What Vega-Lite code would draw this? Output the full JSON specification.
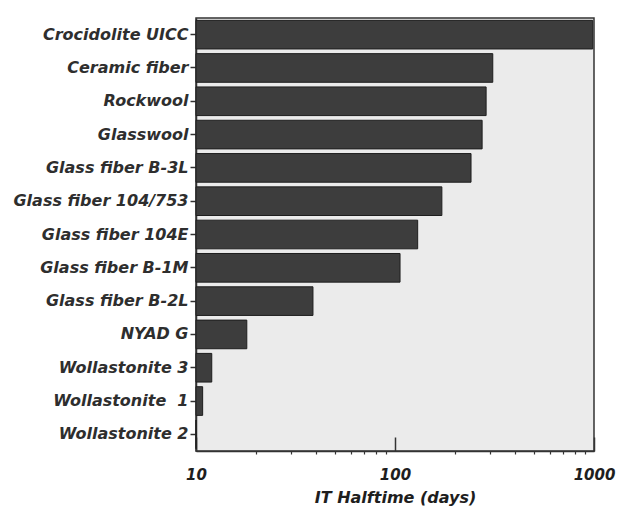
{
  "$schema": "https://vega.github.io/schema/vega-lite/v6.json",
  "width": 398,
  "height": 433,
  "autosize": "none",
  "padding": {"left": 196, "top": 18, "right": 35, "bottom": 67},
  "background": "white",
  "view": {"fill": "#ebebeb", "stroke": "#333333", "strokeWidth": 1.5},
  "data": {
    "values": [
      {"fiber": "Crocidolite UICC", "halftime": 985},
      {"fiber": "Ceramic fiber", "halftime": 310},
      {"fiber": "Rockwool", "halftime": 287},
      {"fiber": "Glasswool", "halftime": 274},
      {"fiber": "Glass fiber B-3L", "halftime": 241},
      {"fiber": "Glass fiber 104/753", "halftime": 172},
      {"fiber": "Glass fiber 104E", "halftime": 130},
      {"fiber": "Glass fiber B-1M", "halftime": 106},
      {"fiber": "Glass fiber B-2L", "halftime": 38.7},
      {"fiber": "NYAD G", "halftime": 18},
      {"fiber": "Wollastonite 3", "halftime": 12},
      {"fiber": "Wollastonite\u00a0 1", "halftime": 10.8},
      {"fiber": "Wollastonite 2", "halftime": 10}
    ]
  },
  "encoding": {
    "y": {
      "field": "fiber",
      "type": "nominal",
      "sort": null,
      "scale": {"paddingInner": 0.14, "paddingOuter": 0.07},
      "axis": {
        "title": null,
        "labelFont": "DejaVu Sans",
        "labelFontStyle": "italic",
        "labelFontWeight": "bold",
        "labelFontSize": 16,
        "labelColor": "#2e2e2e",
        "tickColor": "#333333",
        "tickSize": 6,
        "tickWidth": 1.5,
        "labelPadding": 2,
        "domainColor": "#333333",
        "domainWidth": 1.5,
        "labelLimit": 300
      }
    }
  },
  "layer": [
    {
      "mark": {"type": "bar", "fill": "#3d3d3d", "stroke": "#1e1e1e", "strokeWidth": 1},
      "encoding": {
        "x": {
          "field": "halftime",
          "type": "quantitative",
          "scale": {"type": "log", "domain": [10, 1000], "clamp": true},
          "axis": {
            "orient": "bottom",
            "title": "IT Halftime (days)",
            "titleFont": "DejaVu Sans",
            "titleFontStyle": "italic",
            "titleFontWeight": "bold",
            "titleFontSize": 16,
            "titleColor": "#1e1e1e",
            "titlePadding": 7,
            "values": [10, 100, 1000],
            "format": "d",
            "labelFont": "DejaVu Sans",
            "labelFontStyle": "italic",
            "labelFontWeight": "bold",
            "labelFontSize": 15,
            "labelColor": "#1e1e1e",
            "labelPadding": 30,
            "labelFlush": false,
            "tickSize": -14,
            "tickWidth": 1.5,
            "tickColor": "#333333",
            "domainColor": "#333333",
            "domainWidth": 1.5,
            "grid": false
          }
        },
        "x2": {"datum": 10}
      }
    },
    {
      "mark": {"type": "bar", "opacity": 0},
      "encoding": {
        "x": {
          "field": "halftime",
          "type": "quantitative",
          "scale": {"type": "log", "domain": [10, 1000], "clamp": true},
          "axis": {
            "orient": "bottom",
            "title": null,
            "values": [20, 30, 40, 50, 60, 70, 80, 90, 200, 300, 400, 500, 600, 700, 800, 900],
            "labels": false,
            "tickSize": 3,
            "tickWidth": 1.2,
            "tickColor": "#333333",
            "domain": false,
            "grid": false
          }
        },
        "x2": {"datum": 10}
      }
    }
  ],
  "resolve": {"axis": {"x": "independent"}}
}
